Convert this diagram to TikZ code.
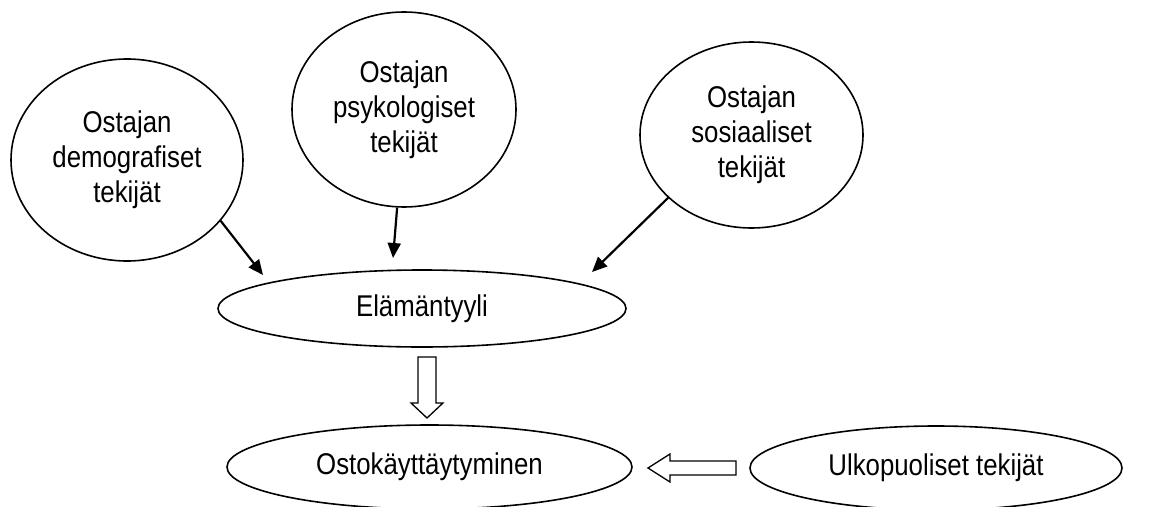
\documentclass[tikz,border=0pt]{standalone}
\usepackage{fontspec}
\setmainfont[FakeStretch=0.86]{Liberation Sans}
\usetikzlibrary{shapes.geometric,arrows.meta}
\begin{document}
\begin{tikzpicture}[x=1pt,y=-1pt,
  oval/.style={draw, ellipse, line width=1.6pt, inner sep=0pt, align=center,
    font=\fontsize{30}{35}\selectfont},
  pointer/.style={line width=2.2pt, -{Triangle[length=15pt,width=13pt]}},
  hollow/.style={draw, line width=1.3pt, fill=white, line join=miter}]
\useasboundingbox (0,0) rectangle (1159,506);
\clip (0,0) rectangle (1159,506);
% nodes
\node[oval, minimum width=232pt, minimum height=202pt] (demo) at (127,160) {Ostajan\\demografiset\\tekijät};
\node[oval, minimum width=224pt, minimum height=195pt] (psyk) at (404,109.5) {Ostajan\\psykologiset\\tekijät};
\node[oval, minimum width=223pt, minimum height=186pt] (sos) at (751.5,135) {Ostajan\\sosiaaliset\\tekijät};
\node[oval, minimum width=408pt, minimum height=77pt] (elam) at (422,308.5) {Elämäntyyli};
\node[oval, minimum width=405pt, minimum height=84pt] (osto) at (429.5,467) {Ostokäyttäytyminen};
\node[oval, minimum width=372pt, minimum height=84pt] (ulko) at (936,468) {Ulkopuoliset tekijät};
% arrow tips
\coordinate (t1) at (263,275);
\coordinate (t2) at (393,258);
\coordinate (t3) at (592,272);
\draw[pointer] (demo.-33) -- (t1);
\draw[pointer] (psyk.-94.6) -- (t2);
\draw[pointer] (sos.-143.4) -- (t3);
% hollow arrow down (elam -> osto)
\draw[hollow] (418,357) -- (436,357) -- (436,403) -- (443,403) -- (427,418)
  -- (411,403) -- (418,403) -- cycle;
% hollow arrow left (ulko -> osto)
\draw[hollow] (736,461) -- (670,461) -- (670,454) -- (648,468) -- (670,482)
  -- (670,475) -- (736,475) -- cycle;
\end{tikzpicture}
\end{document}
